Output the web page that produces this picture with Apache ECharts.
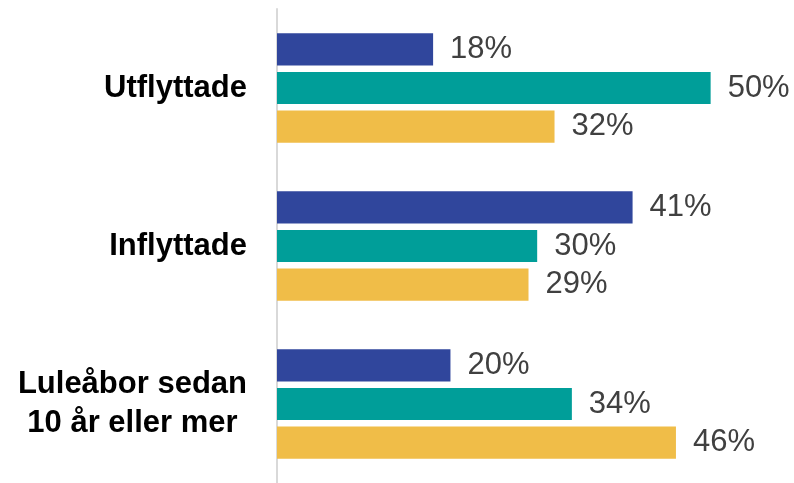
<!DOCTYPE html>
<html>
<head>
<meta charset="utf-8">
<script src="https://cdn.jsdelivr.net/npm/echarts@6/dist/echarts.min.js"></script>
<style>
html,body{margin:0;padding:0;background:#fff;}
#main{width:794px;height:483px;}
</style>
</head>
<body>
<div id="main"></div>
<script>
// kategorier och andelar (%)
var categories = ['Utflyttade', 'Inflyttade', 'Luleåbor sedan\n10 år eller mer'];
var serieBla = [18, 41, 20];
var serieTurkos = [50, 30, 34];
var serieGul = [32, 29, 46];

function makeSeries(name, data, color){
    return {
        type: 'bar',
        name: name,
        data: data,
        barGap: '20%',
        barCategoryGap: '30.7%',
        itemStyle: {color: color},
        label: {
            show: true,
            position: 'right',
            distance: 17,
            formatter: '{c}%',
            color: '#404040',
            fontSize: 31,
            fontFamily: 'Liberation Sans, Arial, sans-serif'
        }
    };
}

var chart = echarts.init(document.getElementById('main'));
var option = {
    animation: false,
    grid: {left: 277, top: 9, width: 477, height: 476},
    xAxis: {
        type: 'value',
        min: 0,
        max: 55,
        show: false
    },
    yAxis: {
        type: 'category',
        inverse: true,
        data: categories,
        axisTick: {show: false},
        axisLine: {show: true, lineStyle: {color: '#d9d9d9', width: 2}},
        axisLabel: {
            margin: 30,
            color: '#000',
            fontSize: 31,
            fontWeight: 'bold',
            fontFamily: 'Liberation Sans, Arial, sans-serif',
            lineHeight: 39,
            formatter: function (value) {
                return value.split('\n').map(function (s) { return '{a|' + s + '}'; }).join('\n');
            },
            rich: {
                a: {align: 'center', fontSize: 31, fontWeight: 'bold', lineHeight: 39,
                    fontFamily: 'Liberation Sans, Arial, sans-serif', color: '#000'}
            }
        }
    },
    series: [
        makeSeries('Blå', serieBla, '#30469c'),
        makeSeries('Turkos', serieTurkos, '#009e99'),
        makeSeries('Gul', serieGul, '#f0bd48')
    ]
};
chart.setOption(option);
</script>
</body>
</html>
